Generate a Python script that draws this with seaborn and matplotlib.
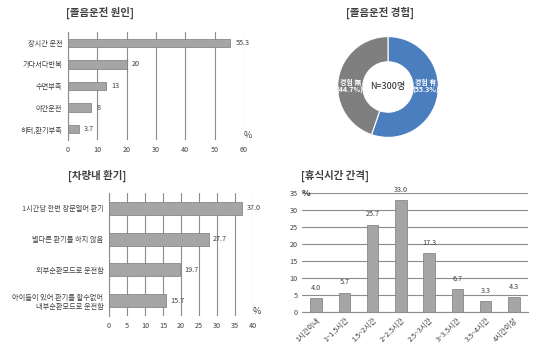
import numpy as np
import pandas as pd
import seaborn as sns
import matplotlib.pyplot as plt

# 졸음운전 원인
cause_labels = ["장시간 운전", "가다서다반복", "수면부족", "야간운전", "히터,환기부족"]
cause_values = [55.3, 20, 13, 8, 3.7]
cause_text = ["55.3", "20", "13", "8", "3.7"]

# 졸음운전 경험
exp_labels = ["경험 有\n(55.3%)", "경험 無\n(44.7%)"]
exp_values = [55.3, 44.7]

# 차량내 환기
vent_labels = ["1시간당 한번 창문열어 환기", "별다른 환기를 하지 않음", "외부순환모드로 운전함",
               "아이들이 있어 환기를 할수없어\n내부순환모드로 운전함"]
vent_values = [37.0, 27.7, 19.7, 15.7]

# 휴식시간 간격
rest_labels = ["1시간이내", "1~1.5시간", "1.5~2시간", "2~2.5시간", "2.5~3시간", "3~3.5시간", "3.5~4시간", "4시간이상"]
rest_values = [4.0, 5.7, 25.7, 33.0, 17.3, 6.7, 3.3, 4.3]

sns.set_style("white")
plt.rcParams['font.family'] = ['Noto Sans CJK KR', 'DejaVu Sans']

W, H = 540, 357
fig = plt.figure(figsize=(5.4, 3.57), dpi=100)

def px_axes(x0, y0, x1, y1):
    return fig.add_axes([x0 / W, 1 - y1 / H, (x1 - x0) / W, (y1 - y0) / H])

BAR = "#a5a5a5"
EDGE = "#7a7a7a"
GRID = "#8c8c8c"
TXT = "#404040"
FS = 5.2

def hbar(ax, labels, values, texts, xmax, step, bw):
    df = pd.DataFrame({"label": labels, "value": values})
    sns.barplot(data=df, x="value", y="label", ax=ax, color=BAR, edgecolor=EDGE,
                linewidth=0.5, width=bw, saturation=1)
    ax.set_xlim(0, xmax)
    ax.set_xticks(np.arange(0, xmax + 1, step))
    ax.xaxis.grid(True, color=GRID, linewidth=0.8)
    ax.set_axisbelow(True)
    for s in ["top", "right", "bottom"]:
        ax.spines[s].set_visible(False)
    ax.spines["left"].set_color(GRID)
    ax.set_xlabel("")
    ax.set_ylabel("")
    ax.tick_params(axis="both", labelsize=FS, colors=TXT, length=0, pad=4)
    ax.set_yticks(np.arange(len(labels) + 1) - 0.5, minor=True)
    ax.tick_params(axis="y", which="minor", length=3, color=GRID, width=0.8)
    for i, (v, t) in enumerate(zip(values, texts)):
        ax.text(v + xmax * 0.03, i, t, va="center", ha="left", fontsize=FS, color=TXT)
    ax.text(1.0, 0.0, "%", transform=ax.transAxes, fontsize=6.5, color=TXT,
            ha="left", va="bottom")

# top-left
ax1 = px_axes(68, 32, 244, 140)
hbar(ax1, cause_labels, cause_values, cause_text, 60, 10, 0.38)
fig.text(100 / W, 1 - 13 / H, "[졸음운전 원인]", fontsize=7.5, fontweight="bold",
         color=TXT, ha="center", va="center")

# top-right donut
cx, cy, r = 388, 87, 63
ax2 = px_axes(cx - r, cy - r, cx + r, cy + r)
wedges, _ = ax2.pie(exp_values, colors=["#4a7ebf", "#7f7f7f"], startangle=90,
                    counterclock=False, radius=1.0,
                    wedgeprops=dict(width=0.5, edgecolor="white", linewidth=0.8))
ax2.set_aspect("auto")
ax2.text(0.0, 0.0, "N=300명", ha="center", va="center", fontsize=6.5, color="#222222")
ax2.text(0.75, 0.02, exp_labels[0], ha="center", va="center", fontsize=5,
         color="white", fontweight="bold", linespacing=1.1)
ax2.text(-0.75, 0.02, exp_labels[1], ha="center", va="center", fontsize=5,
         color="white", fontweight="bold", linespacing=1.1)
fig.text(380 / W, 1 - 13 / H, "[졸음운전 경험]", fontsize=7.5, fontweight="bold",
         color=TXT, ha="center", va="center")

# bottom-left
ax3 = px_axes(109, 193, 253, 316)
hbar(ax3, vent_labels, vent_values, [f"{v:.1f}" for v in vent_values], 40, 5, 0.43)
fig.text(97 / W, 1 - 176 / H, "[차량내 환기]", fontsize=7.5, fontweight="bold",
         color=TXT, ha="center", va="center")

# bottom-right
ax4 = px_axes(302, 193, 528, 312)
df4 = pd.DataFrame({"label": rest_labels, "value": rest_values})
sns.barplot(data=df4, x="label", y="value", ax=ax4, color=BAR, edgecolor=EDGE,
            linewidth=0.5, width=0.4, saturation=1)
ax4.set_ylim(0, 35)
ax4.set_yticks(np.arange(0, 36, 5))
ax4.yaxis.grid(True, color=GRID, linewidth=0.8)
ax4.set_axisbelow(True)
for s in ["top", "right", "left"]:
    ax4.spines[s].set_visible(False)
ax4.spines["bottom"].set_color(GRID)
ax4.set_xlabel("")
ax4.set_ylabel("")
ax4.tick_params(axis="both", labelsize=FS, colors=TXT, length=0, pad=3)
ax4.set_xticks(np.arange(len(rest_labels) + 1) - 0.5, minor=True)
ax4.tick_params(axis="x", which="minor", length=3, color=GRID, width=0.8)
plt.setp(ax4.get_xticklabels(), rotation=45, ha="right", rotation_mode="anchor")
for i, v in enumerate(rest_values):
    ax4.text(i, v + 1.8, f"{v:.1f}", ha="center", va="bottom", fontsize=FS, color=TXT)
ax4.text(0.0, 1.0, "%", transform=ax4.transAxes, fontsize=6.5, color=TXT,
         ha="left", va="center", fontweight="bold")
fig.text(335 / W, 1 - 176 / H, "[휴식시간 간격]", fontsize=7.5, fontweight="bold",
         color=TXT, ha="center", va="center")

fig.savefig("out.png", dpi=100, facecolor="white")
